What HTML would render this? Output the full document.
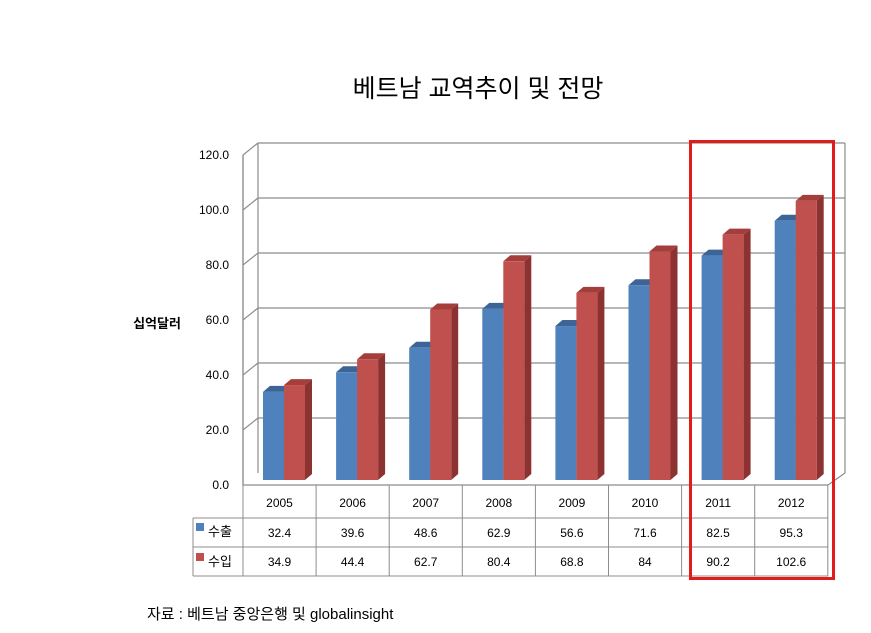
<!DOCTYPE html>
<html><head><meta charset="utf-8"><style>
body{margin:0;background:#fff;}
text{font-family:"Liberation Sans","Noto Sans CJK KR",sans-serif;}
</style></head><body>
<svg width="871" height="628" xmlns="http://www.w3.org/2000/svg">
<text x="478" y="97" font-size="25" text-anchor="middle" fill="#000">베트남 교역추이 및 전망</text>
<text x="157" y="328" font-size="13" font-weight="bold" text-anchor="middle">십억달러</text>
<g stroke="#8c8c8c" stroke-width="1.2" fill="none">
<line x1="258" y1="143" x2="258" y2="473"/>
<polyline points="243,155 243,485 828,485 845,473"/>
<line x1="243" y1="155" x2="243" y2="485"/>
</g>
<g id="grid" stroke="#8c8c8c" stroke-width="1.2" fill="none"></g>
<g id="ylab" font-size="12" text-anchor="end"></g>
<g id="bars"></g>
<g id="tbl" stroke="#8c8c8c" stroke-width="1" fill="none"></g>
<g id="tt" font-size="12" text-anchor="middle"></g>
<rect x="196" y="523" width="8" height="8" fill="#4f81bd"/>
<text x="208" y="536" font-size="13">수출</text>
<rect x="196" y="553" width="8" height="8" fill="#c0504d"/>
<text x="208" y="566" font-size="13">수입</text>
<rect x="690.5" y="141.5" width="143" height="437" fill="none" stroke="#e31b1b" stroke-width="3"/>
<text x="147" y="619" font-size="15">자료 : 베트남 중앙은행 및 globalinsight</text>
</svg>
<script>
const ns="http://www.w3.org/2000/svg";
function el(p,t,a,txt){const e=document.createElementNS(ns,t);for(const k in a)e.setAttribute(k,a[k]);if(txt!==undefined)e.textContent=txt;document.getElementById(p).appendChild(e);}
for(let i=0;i<=6;i++){const v=i*20,y=485-v*2.75;
 if(i>0)el('grid','polyline',{points:`243,${y} 258,${y-12} 845,${y-12}`});
 el('ylab','text',{x:229,y:y+4},v.toFixed(1));}
el('grid','line',{x1:845,y1:143,x2:845,y2:473});
const yrs=[2005,2006,2007,2008,2009,2010,2011,2012];
const ex=[32.4,39.6,48.6,62.9,56.6,71.6,82.5,95.3];
const im=[34.9,44.4,62.7,80.4,68.8,84,90.2,102.6];
const base=480,s=2.72,w=21,d=7,dy=6;
function bar(x,v,f,side,top){const y=base-v*s;
 el('bars','polygon',{points:`${x+w},${y} ${x+w+d},${y-dy} ${x+w+d},${base-dy} ${x+w},${base}`,fill:side});
 el('bars','polygon',{points:`${x},${y} ${x+d},${y-dy} ${x+w+d},${y-dy} ${x+w},${y}`,fill:top});
 el('bars','rect',{x:x,y:y,width:w,height:v*s,fill:f});}
yrs.forEach((yr,i)=>{const x0=243+73.1*i+20;
 bar(x0,ex[i],'#4f81bd','#385d8a','#3c6496');
 bar(x0+w,im[i],'#c0504d','#8c3230','#a33e3b');
 const cx=243+73.1*i+36.5;
 el('tt','text',{x:cx,y:507},yr);
 el('tt','text',{x:cx,y:537},ex[i]);
 el('tt','text',{x:cx,y:566},im[i]);
});
for(let i=0;i<=8;i++){const x=243+73.1*i;el('tbl','line',{x1:x,y1:485,x2:x,y2:576});}
el('tbl','line',{x1:193,y1:518,x2:828,y2:518});
el('tbl','line',{x1:193,y1:547,x2:828,y2:547});
el('tbl','line',{x1:193,y1:576,x2:828,y2:576});
el('tbl','line',{x1:193,y1:518,x2:193,y2:576});
</script>
</body></html>
